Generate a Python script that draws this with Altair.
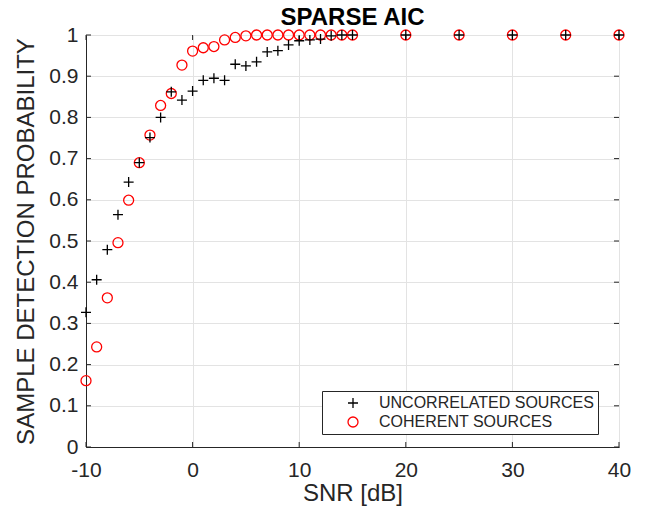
import altair as alt
import pandas as pd

snr = [-10, -9, -8, -7, -6, -5, -4, -3, -2, -1, 0, 1, 2, 3, 4, 5, 6, 7, 8, 9,
       10, 11, 12, 13, 14, 15, 20, 25, 30, 35, 40]
uncorrelated = [0.327, 0.406, 0.479, 0.564, 0.643, 0.690, 0.751, 0.800, 0.862, 0.842,
                0.864, 0.890, 0.895, 0.890, 0.929, 0.925, 0.935, 0.959, 0.962, 0.976,
                0.986, 0.988, 0.990, 0.998, 1.0, 1.0, 1.0, 1.0, 1.0, 1.0, 1.0]
coherent = [0.161, 0.243, 0.362, 0.496, 0.599, 0.690, 0.757, 0.829, 0.858, 0.927,
            0.961, 0.969, 0.972, 0.988, 0.994, 0.998, 1.0, 1.0, 1.0, 1.0,
            1.0, 1.0, 1.0, 1.0, 1.0, 1.0, 1.0, 1.0, 1.0, 1.0, 1.0]
series_names = ["UNCORRELATED SOURCES", "COHERENT SOURCES"]
x_ticks = [-10, 0, 10, 20, 30, 40]
y_ticks = [0, 0.1, 0.2, 0.3, 0.4, 0.5, 0.6, 0.7, 0.8, 0.9, 1.0]

rows = []
for s, v in zip(snr, coherent):
    rows.append({"snr": s, "p": v, "series": series_names[1]})
for s, v in zip(snr, uncorrelated):
    rows.append({"snr": s, "p": v, "series": series_names[0]})
df = pd.DataFrame(rows)
xt = pd.DataFrame({"t": x_ticks})
yt = pd.DataFrame({"t": y_ticks})

W, H = 533, 412
FONT = "Liberation Sans"
AX = "#262626"

xscale = alt.Scale(domain=[-10, 40], nice=False, zero=False)
yscale = alt.Scale(domain=[0, 1], nice=False, zero=False)

plus = "M-1,0L1,0M0,-1L0,1"

points = alt.Chart(df).mark_point(filled=False, size=100, strokeWidth=1.3, opacity=1, clip=False).encode(
    x=alt.X("snr:Q", scale=xscale,
            axis=alt.Axis(values=x_ticks, title="SNR [dB]", labelExpr="'' + datum.value")),
    y=alt.Y("p:Q", scale=yscale,
            axis=alt.Axis(values=y_ticks, title="SAMPLE DETECTION PROBABILITY", format="~g")),
    color=alt.Color("series:N", scale=alt.Scale(domain=series_names, range=["#000000", "#ff0000"]),
                    legend=alt.Legend(title=None, orient="none", legendX=236, legendY=356)),
    shape=alt.Shape("series:N", scale=alt.Scale(domain=series_names, range=[plus, "circle"]),
                    legend=alt.Legend(title=None, orient="none", legendX=236, legendY=356)),
)

tick_len = 5
xt_bottom = alt.Chart(xt).mark_rule(color=AX, strokeWidth=1).encode(
    x=alt.X("t:Q", scale=xscale), y=alt.value(H), y2=alt.value(H - tick_len))
xt_top = alt.Chart(xt).mark_rule(color=AX, strokeWidth=1).encode(
    x=alt.X("t:Q", scale=xscale), y=alt.value(0), y2=alt.value(tick_len))
yt_left = alt.Chart(yt).mark_rule(color=AX, strokeWidth=1).encode(
    y=alt.Y("t:Q", scale=yscale), x=alt.value(0), x2=alt.value(tick_len))
yt_right = alt.Chart(yt).mark_rule(color=AX, strokeWidth=1).encode(
    y=alt.Y("t:Q", scale=yscale), x=alt.value(W), x2=alt.value(W - tick_len))

chart = alt.layer(xt_bottom, xt_top, yt_left, yt_right, points).properties(
    width=W, height=H,
    title=alt.Title("SPARSE AIC", font=FONT, fontSize=24, fontWeight="bold", color="#000000",
                    anchor="middle", offset=-6),
    autosize=alt.AutoSizeParams(type="none"),
    padding={"left": 78, "top": 27, "right": 23, "bottom": 60},
).configure_view(
    stroke=AX, strokeWidth=1
).configure_axis(
    labelFont=FONT, labelFontSize=21, labelColor=AX, labelFlush=False,
    titleFont=FONT, titleFontSize=24, titleColor=AX, titleFontWeight="normal",
    domainColor=AX, domainWidth=1,
    gridColor="#e3e3e3", gridWidth=1,
    ticks=False, tickSize=0,
).configure_axisX(
    labelPadding=12, titlePadding=1,
).configure_axisY(
    labelPadding=8, titlePadding=10,
).configure_legend(
    labelFont=FONT, labelFontSize=16, labelColor=AX, labelLimit=400,
    strokeColor=AX, fillColor="#ffffff", padding=4,
    symbolOffset=19, labelOffset=18, rowPadding=3,
    symbolSize=100, symbolStrokeWidth=1.3,
)

chart.save("out.html", embed_options={"renderer": "svg", "actions": False})
